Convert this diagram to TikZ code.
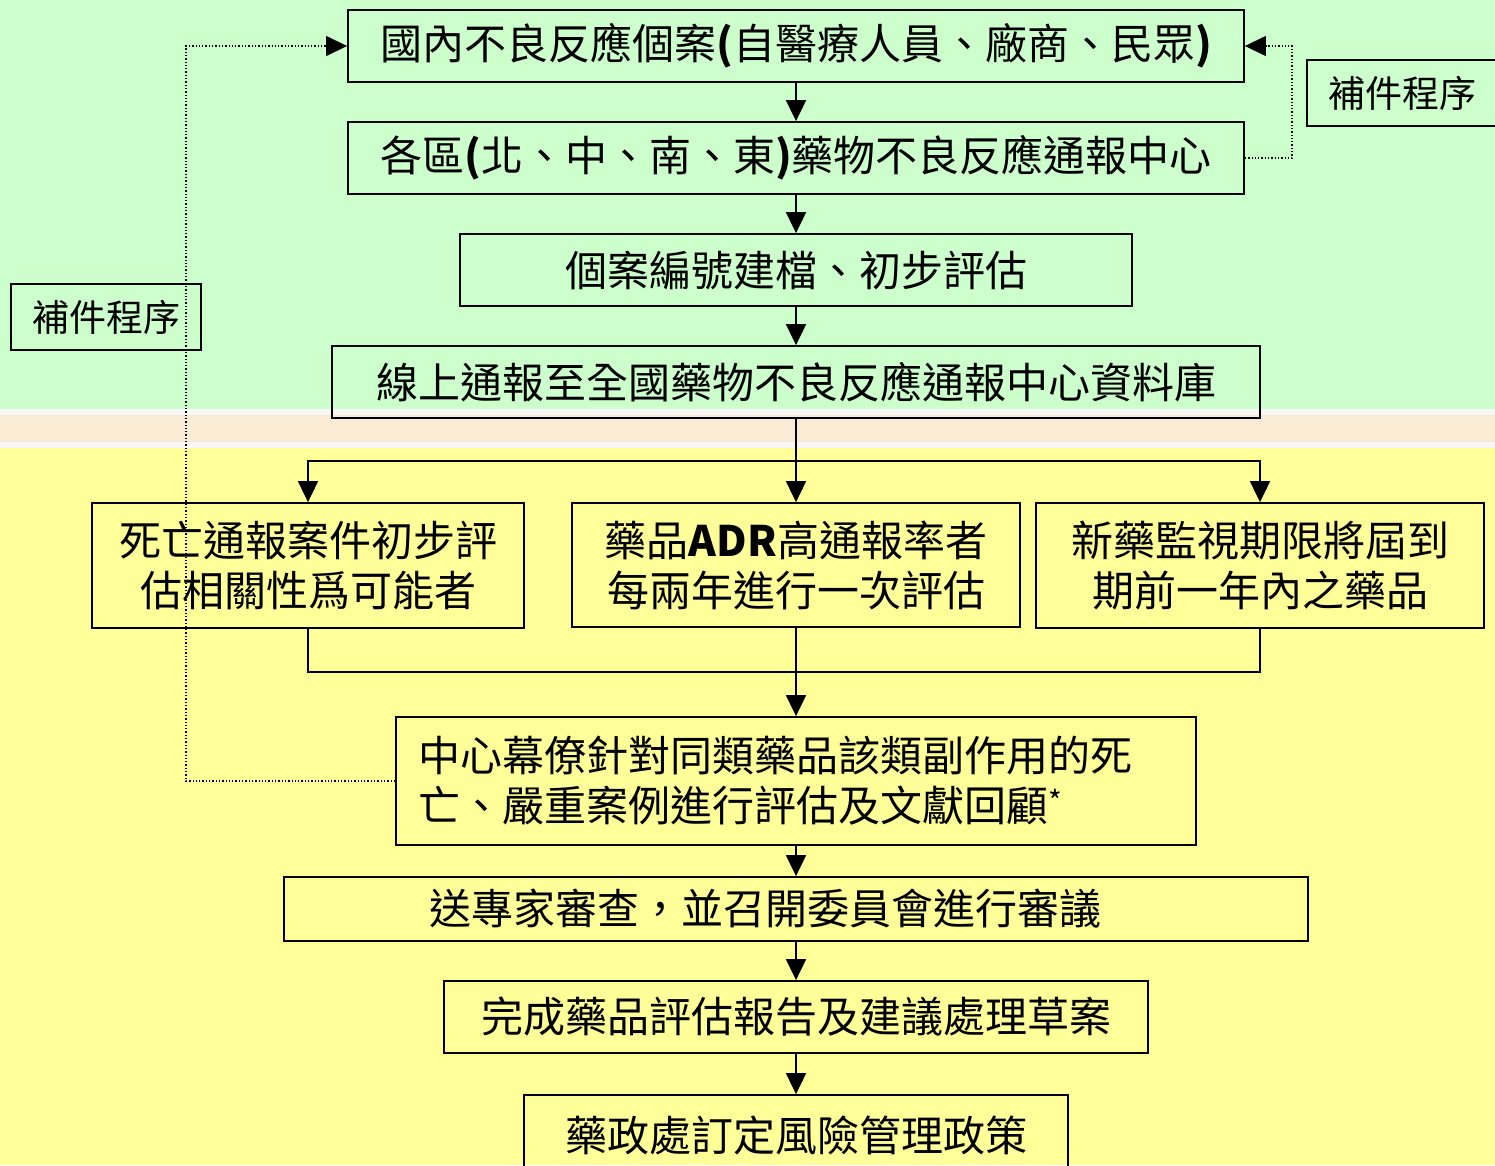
\documentclass[tikz,border=0pt]{standalone}
\usepackage{fontspec}
\setmainfont{Noto Sans CJK TC}
\usetikzlibrary{arrows.meta}

\definecolor{topgreen}{HTML}{CCFFCC}
\definecolor{lowyellow}{HTML}{FFFF99}
\definecolor{bandbeige}{HTML}{FAEBD4}
\definecolor{bandwhite}{HTML}{F7F7F7}

\tikzset{
	flowbox/.style={draw, line width=1.8pt, inner sep=0pt, align=center, font=\fontsize{42}{50}\selectfont},
	sidebox/.style={draw, line width=1.8pt, inner sep=0pt, minimum width=190, minimum height=66, font=\fontsize{37}{44}\selectfont},
	flow/.style={line width=1.8pt, -{Triangle[length=21pt,width=20pt]}},
	feedback/.style={line width=1.3pt, dotted, -{Triangle[length=21pt,width=20pt]}}
}

\begin{document}
\begin{tikzpicture}[x=1pt, y=-1pt]
	\clip (0,0) rectangle (1495,1165);
	\useasboundingbox (0,0) rectangle (1495,1165);
	%% background bands
	\fill[topgreen] (0,0) rectangle (1495,409);
	\fill[bandwhite] (0,409) rectangle (1495,448);
	\fill[bandbeige] (0,415) rectangle (1495,442);
	\fill[lowyellow] (0,448) rectangle (1495,1165);

	%% main column
	\node[flowbox, minimum width=896, minimum height=72] (report) at (796,46) {國內不良反應個案\textbf{(}自醫療人員、廠商、民眾\textbf{)}};
	\node[flowbox, minimum width=896, minimum height=72] (region) at (796,158) {各區\textbf{(}北、中、南、東\textbf{)}藥物不良反應通報中心};
	\node[flowbox, minimum width=672, minimum height=72] (filing) at (796,270) {個案編號建檔、初步評估};
	\node[flowbox, minimum width=928, minimum height=72] (online) at (796,382) {線上通報至全國藥物不良反應通報中心資料庫};

	%% three criteria
	\node[flowbox, minimum width=432, minimum height=125] (death) at (308,565.5) {死亡通報案件初步評\\估相關性爲可能者};
	\node[flowbox, minimum width=448, minimum height=124] (adr) at (796,565) {藥品\textbf{ADR}高通報率者\\每兩年進行一次評估};
	\node[flowbox, minimum width=448, minimum height=125] (newdrug) at (1260,565.5) {新藥監視期限將屆到\\期前一年內之藥品};

	\node[flowbox, minimum width=800, minimum height=128, text width=756, inner xsep=22pt, align=left] (review) at (796,781) {中心幕僚針對同類藥品該類副作用的死\\亡、嚴重案例進行評估及文獻回顧\textsuperscript{*}};
	\node[flowbox, minimum width=1024, minimum height=64] (expert) at (796,909) {\raisebox{-6pt}{送專家審查，並召開委員會進行審議}\hspace*{62pt}};
	\node[flowbox, minimum width=704, minimum height=72] (draft) at (796,1017) {完成藥品評估報告及建議處理草案};
	\node[flowbox, minimum width=544, minimum height=80] (policy) at (796,1135) {藥政處訂定風險管理政策};

	%% side notes
	\node[sidebox] (suppright) at (1402,93) {補件程序};
	\node[sidebox] (suppleft) at (106,317) {補件程序};

	%% arrows
	\draw[flow] (report) -- (region);
	\draw[flow] (region) -- (filing);
	\draw[flow] (filing) -- (online);
	\coordinate (split) at (796,461);
	\draw[line width=1.8pt] (online) -- (split);
	\draw[flow] (split) -| (death.north);
	\draw[flow] (split) -- (adr);
	\draw[flow] (split) -| (newdrug.north);
	\coordinate (merge) at (796,672);
	\draw[line width=1.8pt] (death.south) |- (merge);
	\draw[line width=1.8pt] (newdrug.south) |- (merge);
	\draw[line width=1.8pt] (adr) -- (merge);
	\draw[flow] (merge) -- (review);
	\draw[flow] (review) -- (expert);
	\draw[flow] (expert) -- (draft);
	\draw[flow] (draft) -- (policy);

	%% dotted returns
	\coordinate (rightturn) at (1292,158);
	\draw[feedback] (region.east) -- (rightturn) |- (report.east);
	\coordinate (leftturn) at (186,781);
	\draw[feedback] (review.west) -- (leftturn) |- (report.west);
\end{tikzpicture}
\end{document}
